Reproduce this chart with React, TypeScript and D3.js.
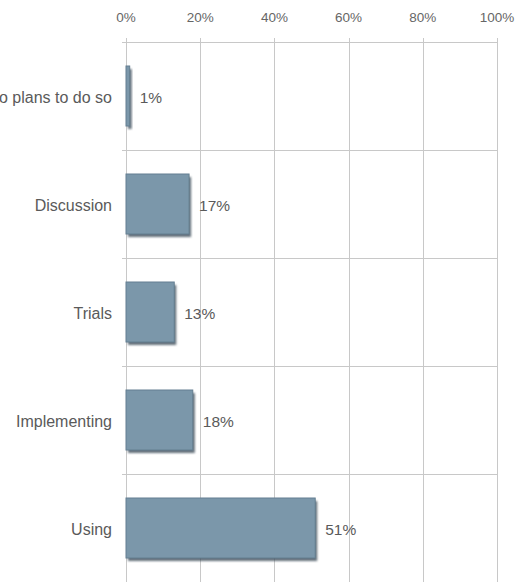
import React from "react";
import * as d3 from "d3";

const categories = ["No plans to do so", "Discussion", "Trials", "Implementing", "Using"];
const values = [1, 17, 13, 18, 51];
const ticks = [0, 20, 40, 60, 80, 100];

const W = 518;
const H = 582;

export default function App() {
  const x = d3.scaleLinear().domain([0, 100]).range([126, 497]);
  const y = d3.scaleBand<string>().domain(categories).range([42, 582]);
  const barH = 60;
  const font = "'Liberation Sans', Arial, sans-serif";

  return (
    <svg
      width={W}
      height={H}
      style={{ position: "absolute", left: 0, top: 0, background: "#fff" }}
      fontFamily={font}
    >
      <defs>
        <filter id="blur" x="-20%" y="-20%" width="140%" height="140%">
          <feGaussianBlur stdDeviation="1" />
        </filter>
      </defs>
      {/* horizontal gridlines */}
      {categories.map((c) => (
        <line
          key={"h" + c}
          x1={x(0) - 4}
          x2={x(100)}
          y1={(y(c) as number) + 0.5}
          y2={(y(c) as number) + 0.5}
          stroke="#c8c8c8"
          strokeWidth={1}
        />
      ))}
      {/* vertical gridlines */}
      {ticks.map((t) => (
        <line
          key={"v" + t}
          x1={Math.round(x(t)) + 0.5}
          x2={Math.round(x(t)) + 0.5}
          y1={38}
          y2={H}
          stroke="#c8c8c8"
          strokeWidth={1}
        />
      ))}
      {/* tick labels */}
      {ticks.map((t) => (
        <text
          key={"t" + t}
          x={x(t)}
          y={22}
          textAnchor="middle"
          fontSize={13.5}
          fill="#666"
        >
          {t + "%"}
        </text>
      ))}
      {/* bars */}
      {categories.map((c, i) => {
        const cy = (y(c) as number) + y.bandwidth() / 2;
        const top = cy - barH / 2;
        const w = x(values[i]) - x(0);
        return (
          <g key={"b" + c}>
            <rect
              x={x(0) + 2}
              y={top + 3}
              width={w}
              height={barH}
              fill="#3e4e5a"
              opacity={0.8}
              filter="url(#blur)"
            />
            <rect
              x={x(0)}
              y={top}
              width={w}
              height={barH}
              fill="#7b97aa"
              stroke="#647f91"
              strokeWidth={1}
            />
            <text
              x={x(values[i]) + 10}
              y={cy + 7}
              fontSize={15.5}
              fill="#5a5a5a"
            >
              {values[i] + "%"}
            </text>
            <text
              x={112}
              y={cy + 7}
              textAnchor="end"
              fontSize={16}
              fill="#5a5a5a"
            >
              {c}
            </text>
          </g>
        );
      })}
    </svg>
  );
}
